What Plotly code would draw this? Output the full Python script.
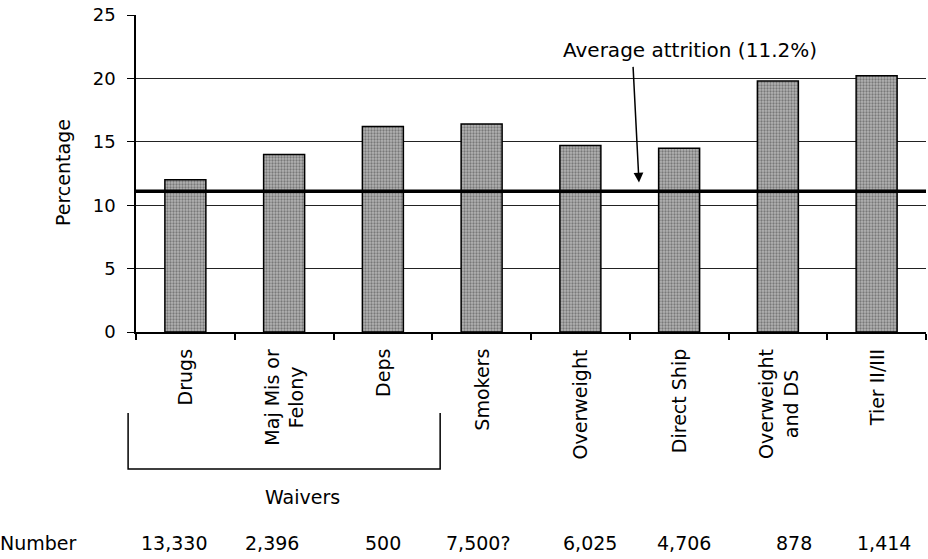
import plotly.graph_objects as go

# ---------------- data ----------------
categories = ["Drugs", "Maj Mis or<br>Felony", "Deps", "Smokers", "Overweight",
              "Direct Ship", "Overweight<br>and DS", "Tier II/III"]
attrition_pct = [12.0, 14.0, 16.2, 16.4, 14.7, 14.5, 19.8, 20.2]
numbers = ["13,330", "2,396", "500", "7,500?", "6,025", "4,706", "878", "1,414"]
average_attrition = 11.1
average_label = "Average attrition (11.2%)"
y_ticks = [0, 5, 10, 15, 20, 25]
group_label = "Waivers"
group_members = ["Drugs", "Maj Mis or<br>Felony", "Deps"]

# ---------------- layout helpers ----------------
FONT = "DejaVu Sans"
W, H = 928, 559
L, R, T, B = 136, 2, 15, 227
PW, PH = W - L - R, H - T - B
N = len(categories)
CAT_W = PW / N


def px_x(px):
    return (px - L) / PW


def px_y(py):
    return (H - B - py) / PH


def cat_to_paper(idx):
    return (idx + 0.5) / N


number_shift = [-11, -12, 0, -4, 10, 5, 16, 7]

fig = go.Figure()
fig.add_trace(go.Bar(
    x=list(range(N)),
    y=attrition_pct,
    marker=dict(
        color="#b4b4b4",
        line=dict(color="black", width=1.5),
        pattern=dict(shape=".", fillmode="overlay", fgcolor="#505050",
                     fgopacity=0.6, size=3, solidity=0.45),
    ),
    showlegend=False,
    hoverinfo="skip",
))

annotations = []
# category labels (rotated, centered multi-line)
for i, c in enumerate(categories):
    annotations.append(dict(
        x=i, xref="x", y=px_y(347), yref="paper", text=c, showarrow=False,
        textangle=-90, xanchor="center", yanchor="top", align="center",
        font=dict(family=FONT, size=19, color="black"),
    ))
# numbers row
for i, n in enumerate(numbers):
    annotations.append(dict(
        x=i, xref="x", y=px_y(543), yref="paper", text=n, showarrow=False,
        xshift=number_shift[i], xanchor="center", yanchor="middle",
        font=dict(family=FONT, size=19, color="black"),
    ))
annotations.append(dict(
    x=px_x(-2), xref="paper", y=px_y(543), yref="paper", text="Number",
    showarrow=False, xanchor="left", yanchor="middle",
    font=dict(family=FONT, size=19, color="black"),
))
# group label
annotations.append(dict(
    x=px_x(302), xref="paper", y=px_y(497), yref="paper", text=group_label,
    showarrow=False, xanchor="center", yanchor="middle",
    font=dict(family=FONT, size=19, color="black"),
))
# y axis title
annotations.append(dict(
    x=px_x(63), xref="paper", y=px_y(173), yref="paper", text="Percentage",
    showarrow=False, textangle=-90, xanchor="center", yanchor="middle",
    font=dict(family=FONT, size=19, color="black"),
))
# average label and arrow
annotations.append(dict(
    x=px_x(690), xref="paper", y=px_y(50), yref="paper", text=average_label,
    showarrow=False, xanchor="center", yanchor="middle",
    font=dict(family=FONT, size=20, color="black"),
))
annotations.append(dict(
    x=px_x(639), xref="paper", y=average_attrition + 0.7, yref="y", text="",
    showarrow=True, ax=-6, ay=-117, axref="pixel", ayref="pixel",
    arrowhead=2, arrowsize=1.3, arrowwidth=1.5, arrowcolor="black", standoff=0,
))

first = categories.index(group_members[0])
last = categories.index(group_members[-1])
bx0 = cat_to_paper(first) - 0.58 / N
bx1 = cat_to_paper(last) + 0.58 / N
shapes = [
    # average line
    dict(type="line", xref="paper", x0=0, x1=1, yref="y",
         y0=average_attrition, y1=average_attrition,
         line=dict(color="black", width=3.5), layer="above"),
    # bracket
    dict(type="path", xref="paper", yref="paper",
         path=f"M {bx0},{px_y(413)} L {bx0},{px_y(469)} "
              f"L {bx1},{px_y(469)} L {bx1},{px_y(413)}",
         line=dict(color="black", width=1.5)),
]

fig.update_layout(
    width=W, height=H,
    margin=dict(l=L, r=R, t=T, b=B, pad=0),
    paper_bgcolor="white", plot_bgcolor="white",
    bargap=0.585,
    font=dict(family=FONT, size=19, color="black"),
    annotations=annotations,
    shapes=shapes,
    xaxis=dict(
        range=[-0.5, N - 0.5],
        tickmode="array", tickvals=[i - 0.5 for i in range(N + 1)],
        showticklabels=False, ticks="outside", ticklen=6, tickcolor="black",
        tickwidth=1.5, showline=True, linecolor="black", linewidth=1.5,
        showgrid=False, zeroline=False,
    ),
    yaxis=dict(
        range=[0, 25], tickvals=y_ticks, ticks="outside", ticklen=7,
        tickcolor="black", tickwidth=1.2, showline=True, linecolor="black",
        linewidth=1.5, showgrid=True, gridcolor="#222222", gridwidth=1,
        zeroline=False, tickfont=dict(family=FONT, size=18, color="black"),
        ticklabelstandoff=8,
    ),
)

fig.write_html("out.html")
